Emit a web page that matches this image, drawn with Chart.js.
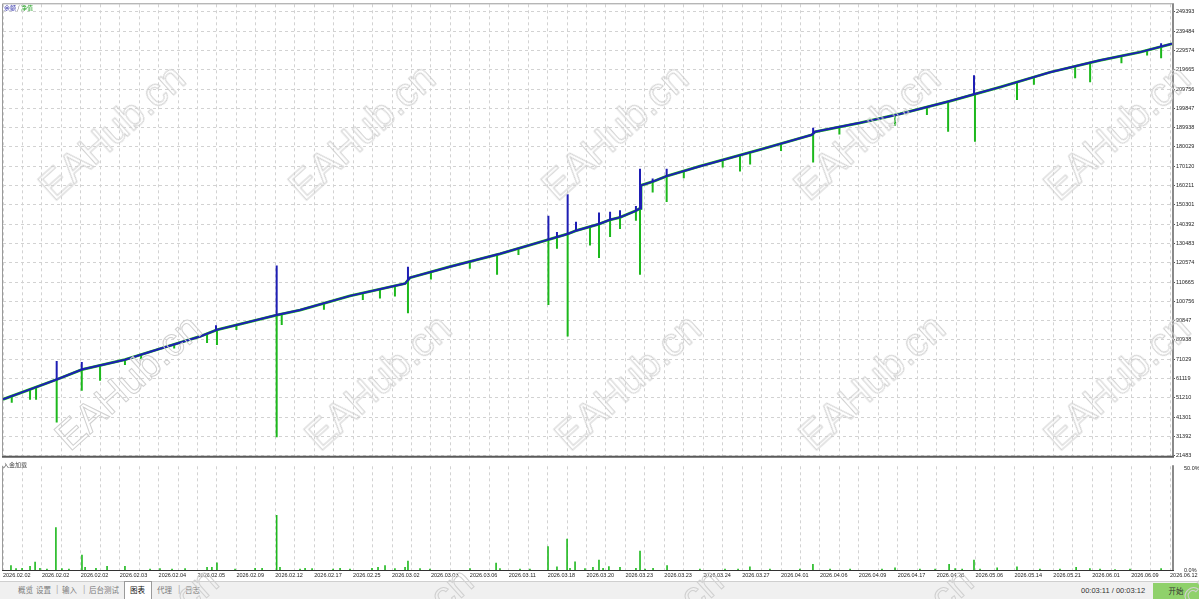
<!DOCTYPE html>
<html>
<head>
<meta charset="utf-8">
<script src="https://cdn.jsdelivr.net/npm/chart.js@4.4.1/dist/chart.umd.min.js"></script>
<style>
html, body { margin: 0; padding: 0; background: #fff; }
body { width: 1199px; height: 599px; position: relative; overflow: hidden; font-family: "Liberation Sans", Arial, sans-serif; }
#mainChart { position: absolute; left: 0; top: 0; }
#loadChart { position: absolute; left: 0; top: 459px; }
.small { position: absolute; font: 6px "Noto Sans CJK SC"; line-height: 7px; white-space: nowrap; }
.wm { position: absolute; font: 40px "Liberation Sans", Arial, sans-serif; color: transparent; -webkit-text-stroke: 1px #d0d0d0; transform: translate(-50%, -50%) rotate(-42deg); white-space: nowrap; pointer-events: none; z-index: 5; }
#bar { position: absolute; left: 0; top: 581px; width: 1199px; height: 18px; background: #f0f0f0; border-top: 1px solid #cfcfcf; }
.tab { position: absolute; top: 584px; font: 7.5px "Noto Sans CJK SC"; line-height: 11px; color: #7a7a7a; white-space: nowrap; }
.sep { position: absolute; top: 583px; font: 9px "Liberation Sans"; line-height: 12px; color: #b0b0b0; }
#selTab { position: absolute; left: 124px; top: 581px; width: 26px; height: 18px; background: #fff; border: 1px solid #9a9a9a; border-bottom: none; }
#time { position: absolute; left: 1081px; top: 586px; font: 7.5px "Liberation Sans"; line-height: 10px; color: #333; }
#startBtn { position: absolute; left: 1153px; top: 583px; width: 46px; height: 16px; background: #8fd16b; font: 7.5px "Noto Sans CJK SC"; line-height: 16px; text-align: center; color: #333; }
</style>
</head>
<body>
<canvas id="mainChart" width="1199" height="460"></canvas>
<canvas id="loadChart" width="1199" height="123"></canvas>

<div class="small" style="left:4px;top:4px;color:#555;"><span style="color:#3030a8">余额</span> / <span style="color:#1f9f1f">净值</span></div>
<div class="small" style="left:3px;top:461px;color:#444;">入金加载</div>

<div id="bar"></div>
<div id="selTab"></div>
<div class="tab" style="left:18px">概览</div>
<div class="sep" style="left:30px">|</div>
<div class="tab" style="left:36px">设置</div>
<div class="sep" style="left:56px">|</div>
<div class="tab" style="left:62px">输入</div>
<div class="sep" style="left:83px">|</div>
<div class="tab" style="left:89px">后台测试</div>
<div class="tab" style="left:130px;color:#111">图表</div>
<div class="tab" style="left:157px">代理</div>
<div class="sep" style="left:178px">|</div>
<div class="tab" style="left:185px">日志</div>
<div id="time">00:03:11 / 00:03:12</div>
<div id="startBtn">开始</div>

<script>
// Date labels under the lower panel, one per two grid cells.
const xLabels = ['2026.02.02', '2026.02.02', '2026.02.02', '2026.02.03', '2026.02.04', '2026.02.05',
    '2026.02.09', '2026.02.12', '2026.02.17', '2026.02.25', '2026.03.02', '2026.03.03', '2026.03.06',
    '2026.03.11', '2026.03.18', '2026.03.20', '2026.03.23', '2026.03.23', '2026.03.24', '2026.03.27',
    '2026.04.01', '2026.04.06', '2026.04.09', '2026.04.17', '2026.04.28', '2026.05.06', '2026.05.14',
    '2026.05.21', '2026.06.01', '2026.06.09', '2026.06.12'];

// Price scale on the right of the main panel.
const yTicks = [249393, 239484, 229574, 219665, 209756, 199847, 189938, 180029, 170120, 160211, 150301,
    140392, 130483, 120574, 110665, 100756, 90847, 80938, 71029, 61119, 51210, 41301, 31392, 21483];
const loadTicks = [0, 50];

// Balance curve (x = position along the test, 10 units per grid cell).
const balanceX = [0, 13.9, 27.6, 40.5, 62.7, 79.0, 101.3, 109.9, 140.7, 152.7, 178.4, 206.7, 209.3, 229.8,
    255.5, 280.4, 290.3, 294.6, 306.4, 312.1, 317.2, 325.3, 327.5, 328.0, 334.0, 341.2, 358.4, 389.2, 415.9,
    417.5, 440.6, 461.2, 486.9, 499.7, 512.6, 538.3, 564.0, 584.6, 601];
const balance = [50420, 55520, 60610, 65710, 70800, 75900, 82720, 86090, 93730, 96280, 103560, 109880,
    112940, 118540, 125170, 132450, 135360, 137040, 140450, 142640, 143870, 147230, 148450, 160320, 162210,
    165060, 170160, 178660, 186310, 187840, 192420, 197010, 203630, 207200, 210760, 218410, 224520, 228750,
    233030];

// Equity drops below the balance.
const equityDipX = [4.5, 13.9, 17.0, 27.6, 40.5, 49.9, 62.7, 71, 88, 104.9, 110.0, 120, 140.7, 143.3, 165,
    185, 193.8, 201.5, 208.2, 220, 240, 254.0, 265, 280.4, 284.8, 290.3, 301.8, 306.4, 312.1, 317.2, 325.4,
    327.5, 334.0, 341.2, 350, 370, 378.9, 384.1, 400, 416.5, 430, 458.6, 475, 485.9, 499.7, 521.3, 530,
    551.2, 558.9, 575, 588.2, 595.4];
const equityDipLow = [48740, 50270, 50270, 38550, 54860, 59950, 68100, 71000, 76500, 79310, 78290, 86000,
    30910, 88640, 96500, 101500, 102240, 103260, 94600, 112000, 117500, 114470, 124500, 98830, 127710, 82730,
    129400, 122980, 133830, 137900, 142130, 114470, 156600, 151810, 164000, 169500, 167460, 171020, 178000,
    172040, 186500, 190890, 196500, 187840, 182740, 204140, 212000, 215350, 213310, 223000, 227070, 225540];

// Balance peaks above the curve.
const balanceSpikeX = [27.6, 40.5, 109.5, 140.7, 208.2, 280.4, 284.8, 290.3, 294.6, 306.4, 312.1, 317.2,
    325.4, 327.5, 334.0, 341.2, 416.5, 499.2, 595.4];
const balanceSpikeHigh = [70140, 69630, 88480, 119210, 118540, 144680, 136380, 155740, 141620, 146410,
    146720, 147580, 149780, 168830, 163890, 168830, 189870, 216880, 233330];

// Deposit load, percent.
const loadX = [4.1, 6.7, 9.8, 13.9, 16.5, 19.0, 22.6, 27.2, 30.3, 33.9, 40.6, 42.2, 47.8, 53.5, 62.7, 75.6,
    80.7, 86.9, 93.6, 104.9, 107.4, 110.0, 119.3, 129.6, 133.2, 140.7, 142.4, 152.7, 155.3, 158.9, 169.7,
    173.3, 178.4, 189.7, 192.8, 196.4, 201.5, 206.7, 208.2, 214.4, 219.5, 240.1, 253.5, 255.5, 265.8, 270.9,
    280.2, 284.8, 290.0, 291.5, 294.1, 299.2, 303.3, 306.4, 308.5, 311.5, 317.2, 325.4, 327.5, 330.1, 334.2,
    341.4, 358.3, 371.2, 377.9, 384.0, 394.3, 409.7, 416.4, 425.2, 435.5, 451.9, 458.6, 471.4, 479.2, 486.4,
    489.5, 493.1, 499.2, 502.3, 511.1, 521.3, 533.1, 543.4, 551.7, 558.8, 564.0, 571.7, 579.4, 595.4];
const loadPct = [2.3, 0.8, 1.0, 2.0, 4.0, 1.0, 0.6, 21.0, 0.8, 0.6, 7.5, 1.5, 1.0, 2.0, 2.0, 0.6, 0.8, 0.6,
    0.8, 1.5, 1.5, 3.7, 0.6, 1.0, 1.0, 27.0, 1.5, 0.6, 1.0, 0.8, 0.6, 1.0, 0.6, 1.0, 1.5, 2.3, 0.8, 1.5, 4.5,
    0.8, 0.6, 0.8, 3.6, 0.8, 0.6, 0.6, 11.7, 1.7, 15.4, 1.0, 4.2, 0.8, 1.5, 5.0, 1.0, 1.9, 1.5, 1.0, 9.5,
    0.6, 1.0, 2.3, 0.6, 0.6, 0.6, 1.7, 0.6, 0.6, 3.0, 0.6, 0.6, 0.6, 1.2, 0.6, 0.6, 3.0, 0.8, 0.6, 5.0, 0.6,
    1.2, 1.7, 0.6, 0.6, 1.5, 0.8, 0.6, 0.4, 0.6, 0.8];

const blue = '#1e1eb4';
const green = '#1cb81c';
const gridColor = '#d2d2d2';
const tickFont = { family: 'Liberation Sans', size: 5.5 };

// Balance value at a position, used to anchor the spikes on the curve.
function balanceAt(x) {
    for (let i = 1; i < balanceX.length; i++) {
        if (x <= balanceX[i]) {
            const t = (x - balanceX[i - 1]) / (balanceX[i] - balanceX[i - 1]);
            return balance[i - 1] + t * (balance[i] - balance[i - 1]);
        }
    }
    return balance[balance.length - 1];
}

// Vertical strokes: from a base value to an end value, separated by gaps.
function strokes(xs, ends, base) {
    const pts = [];
    xs.forEach((x, i) => {
        pts.push({ x: x, y: base(x) }, { x: x, y: ends[i] }, { x: x, y: null });
    });
    return pts;
}

const balancePts = balanceX.map((x, i) => ({ x: x, y: balance[i] }));
const gridTicks = () => Array.from({ length: 61 }, (_, i) => ({ value: i * 10 }));

// Panel frame around the chart area.
const framePlugin = {
    id: 'frame',
    afterDatasetsDraw(chart, args, opts) {
        const a = chart.chartArea, c = chart.ctx;
        c.save();
        c.lineWidth = 1;
        c.strokeStyle = '#9a9a9a';
        c.beginPath();
        c.moveTo(a.left - 0.5, a.bottom);
        c.lineTo(a.left - 0.5, a.top - 0.5);
        if (opts.top) c.lineTo(a.right, a.top - 0.5);
        c.stroke();
        c.lineWidth = 2;
        c.strokeStyle = '#8a8a8a';
        c.beginPath();
        c.moveTo(a.right + 1, a.top - 1);
        c.lineTo(a.right + 1, a.bottom + 1);
        c.stroke();
        c.lineWidth = opts.bottomWidth;
        c.strokeStyle = opts.bottomColor;
        c.beginPath();
        c.moveTo(a.left - 1, a.bottom + opts.bottomWidth / 2);
        c.lineTo(a.right + 2, a.bottom + opts.bottomWidth / 2);
        c.stroke();
        c.restore();
    }
};

const mainChart = new Chart(document.getElementById('mainChart'), {
    type: 'line',
    data: {
        datasets: [
            { label: '余额峰值', data: strokes(balanceSpikeX, balanceSpikeHigh, balanceAt), borderColor: blue, borderWidth: 2, pointRadius: 0, spanGaps: false, order: 0 },
            { label: '余额', data: balancePts, borderColor: blue, borderWidth: 2, pointRadius: 0, order: 1 },
            { label: '净值回落', data: strokes(equityDipX, equityDipLow, balanceAt), borderColor: green, borderWidth: 2, pointRadius: 0, spanGaps: false, order: 2 },
            { label: '净值', data: balancePts, borderColor: green, borderWidth: 2.8, pointRadius: 0, order: 3 }
        ]
    },
    options: {
        responsive: false,
        animation: false,
        events: [],
        layout: { padding: { left: 3, top: 3, right: 0, bottom: 2 } },
        plugins: {
            legend: { display: false },
            tooltip: { enabled: false },
            frame: { top: true, bottomColor: '#5a5a5a', bottomWidth: 2 }
        },
        scales: {
            x: {
                type: 'linear',
                min: 0,
                max: 601,
                afterBuildTicks: s => { s.ticks = gridTicks(); },
                afterFit: s => { s.height = 0; },
                ticks: { display: false },
                grid: { color: gridColor, drawTicks: false },
                border: { display: false, dash: [3, 3] }
            },
            y: {
                position: 'right',
                min: 21483,
                max: 253306,
                afterBuildTicks: s => { s.ticks = yTicks.slice().reverse().map(v => ({ value: v })); },
                afterFit: s => { s.width = 27; },
                ticks: { font: tickFont, color: '#222', padding: 1, autoSkip: false, callback: v => String(v) },
                grid: { color: gridColor, tickColor: '#555', tickLength: 3, tickBorderDash: [] },
                border: { display: false, dash: [3, 3] }
            }
        }
    },
    plugins: [framePlugin]
});

const loadChart = new Chart(document.getElementById('loadChart'), {
    type: 'line',
    data: {
        datasets: [
            { label: '入金加载', data: strokes(loadX, loadPct, () => 0), borderColor: green, borderWidth: 1.6, pointRadius: 0, spanGaps: false }
        ]
    },
    options: {
        responsive: false,
        animation: false,
        events: [],
        layout: { padding: { left: 3, top: 2, right: 0, bottom: 0 } },
        plugins: {
            legend: { display: false },
            tooltip: { enabled: false },
            frame: { top: false, bottomColor: '#333', bottomWidth: 1 }
        },
        scales: {
            x: {
                type: 'linear',
                min: 0,
                max: 601,
                afterBuildTicks: s => { s.ticks = gridTicks(); },
                afterFit: s => { s.height = 12; s.paddingLeft = 0; s.paddingRight = 0; },
                ticks: {
                    font: tickFont, color: '#222', padding: 2, align: 'start', autoSkip: false,
                    maxRotation: 0, minRotation: 0,
                    callback: v => (v % 20 === 0 ? xLabels[v / 20] : '')
                },
                grid: { color: gridColor, drawTicks: false },
                border: { display: false, dash: [3, 3] }
            },
            y: {
                position: 'right',
                min: 0,
                max: 51,
                afterBuildTicks: s => { s.ticks = loadTicks.map(v => ({ value: v })); },
                afterFit: s => { s.width = 27; },
                ticks: { font: tickFont, color: '#222', padding: 4, autoSkip: false, callback: v => v.toFixed(1) + '%' },
                grid: { display: false },
                border: { display: false }
            }
        }
    },
    plugins: [framePlugin]
});

// Watermarks.
const marks = [[112, 132], [362, 132], [615, 132], [867, 132], [1117, 132],
    [128, 382], [378, 382], [628, 382], [872, 382], [1117, 382],
    [145, 635], [400, 635], [650, 635], [900, 635], [1150, 635]];
marks.forEach(([x, y]) => {
    const d = document.createElement('div');
    d.className = 'wm';
    d.textContent = 'EAHub.cn';
    d.style.left = x + 'px';
    d.style.top = y + 'px';
    document.body.appendChild(d);
});
</script>
</body>
</html>
